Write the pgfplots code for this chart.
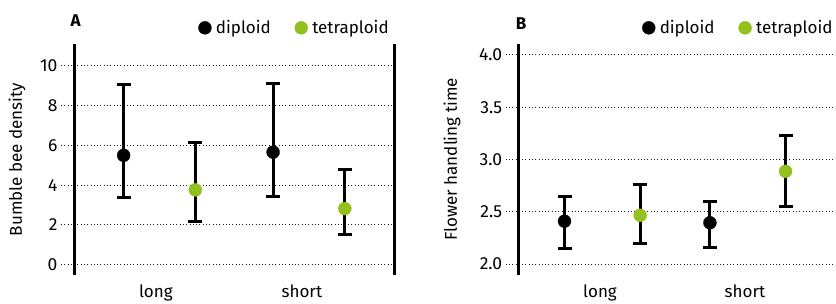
\documentclass[border=0pt]{standalone}
\usepackage{fontspec}
\setmainfont{Fira Sans}
\usepackage{pgfplots}
\pgfplotsset{compat=1.18}
\definecolor{tgreen}{RGB}{146,192,31}
\definecolor{gridc}{RGB}{30,30,30}
\newcommand{\fs}{\fontsize{17}{20}\selectfont}
\newcommand{\fst}{\fontsize{17.5}{20}\selectfont}
\pgfplotsset{
 common/.style={
  scale only axis, height=231pt, clip=false,
  ymajorgrids,
  major grid style={line width=1pt, gridc, dash pattern=on 1pt off 2.3pt},
  tick align=outside, major tick length=13pt, ytick pos=left,
  ytick style={line width=1pt, gridc, dash pattern=on 1pt off 2.3pt},
  xtick style={draw=none},
  font=\fs,
  /pgf/number format/assume math mode=true,
  tick label style={font=\fst},
  label style={font=\fs},
  legend style={draw=none, fill=none, font=\fs, legend columns=2, inner sep=0pt,
    nodes={inner sep=0pt},
    /tikz/every even column/.append style={column sep=24pt}},
  legend image code/.code={\draw[mark repeat=2,mark phase=2] plot coordinates {(0pt,0pt)(6.5pt,0pt)(13pt,0pt)};
     \node[inner sep=0pt, outer sep=0pt, minimum size=0pt] at (17.5pt,0pt) {};},
  xticklabels={long,short},
  xticklabel style={anchor=north, yshift=7pt, font=\fs},
  yticklabel style={anchor=east},
 },
 dip/.style={black, only marks, mark=*, mark size=6.5pt, mark options={fill=black, draw=black, line width=0.3pt},
   error bars/.cd, y dir=both, y explicit, error bar style={line width=3pt, black},
   error mark options={rotate=90, mark size=7pt, line width=3pt, black}},
 tet/.style={tgreen, only marks, mark=*, mark size=6.5pt, mark options={fill=tgreen, draw=tgreen, line width=0.3pt},
   error bars/.cd, y dir=both, y explicit, error bar style={line width=3pt, black},
   error mark options={rotate=90, mark size=7pt, line width=3pt, black}},
}
\begin{document}
\begin{tikzpicture}
\path[use as bounding box] (0,0) rectangle (836pt,303pt);
\begin{axis}[common, at={(74pt,28pt)}, anchor=south west, width=320pt,
  xmin=0.428, xmax=2.569, ymin=-0.52, ymax=11.1,
  ytick={0,2,4,6,8,10}, xtick={0.976,1.953},
  separate axis lines, x axis line style={draw=none}, y axis line style={line width=3pt, black},
  ylabel={Bumble bee density},
  ylabel style={at={(axis description cs:-0.178,0.5)}, anchor=center},
  legend style={at={(axis description cs:0.984,1.07)}, anchor=east}]
\addplot[dip] coordinates {(0.76,5.50) += (0,3.55) -= (0,2.10) (1.76,5.66) += (0,3.44) -= (0,2.24)};
\addlegendentry{diploid}
\addplot[tet] coordinates {(1.24,3.76) += (0,2.41) -= (0,1.57) (2.24,2.82) += (0,1.98) -= (0,1.28)};
\addlegendentry{tetraploid}
\node[font=\fs\bfseries] at (rel axis cs:0.005,1.1) {A};
\end{axis}
\begin{axis}[common, at={(518.7pt,28pt)}, anchor=south west, width=317.3pt,
  xmin=0.425, xmax=2.607, ymin=1.895, ymax=4.105,
  ytick={2,2.5,3,3.5,4}, xtick={0.984,1.981},
  axis y line*=left, axis x line*=bottom, x axis line style={draw=none}, y axis line style={line width=3pt, black},
  yticklabel style={/pgf/number format/.cd, fixed, fixed zerofill, precision=1},
  ylabel={Flower handling time},
  ylabel style={at={(axis description cs:-0.21,0.5)}, anchor=center},
  legend style={at={(axis description cs:0.9896,1.07)}, anchor=east}]
\addplot[dip] coordinates {(0.74,2.41) += (0,0.24) -= (0,0.26) (1.74,2.395) += (0,0.205) -= (0,0.239)};
\addlegendentry{diploid}
\addplot[tet] coordinates {(1.26,2.466) += (0,0.294) -= (0,0.266) (2.26,2.887) += (0,0.343) -= (0,0.337)};
\addlegendentry{tetraploid}
\node[font=\fs\bfseries] at (rel axis cs:0.008,1.09) {B};
\end{axis}
\end{tikzpicture}
\end{document}
